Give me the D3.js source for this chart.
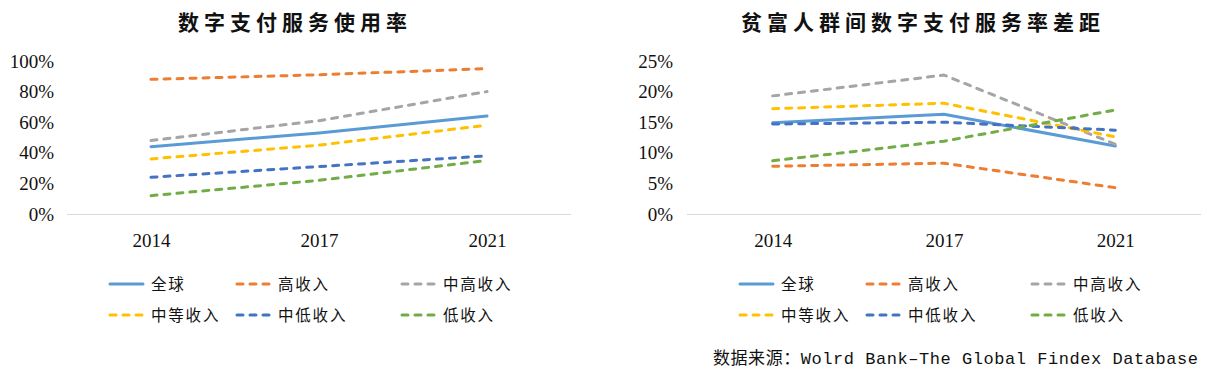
<!DOCTYPE html>
<html>
<head>
<meta charset="utf-8">
<script src="https://cdn.jsdelivr.net/npm/d3@7"></script>
<style>
  body { margin: 0; background: #fff; }
  svg { display: block; }
</style>
</head>
<body>
<svg width="1207" height="377"></svg>
<script>
// data
const years = ['2014', '2017', '2021'];
const seriesNames = ['全球', '高收入', '中高收入', '中等收入', '中低收入', '低收入'];
const seriesColors = ['#5B9BD5', '#ED7D31', '#A5A5A5', '#FFC000', '#4472C4', '#70AD47'];
const seriesDashed = [false, true, true, true, true, true];

// 数字支付服务使用率
const usageRates = [
  [0.44, 0.53, 0.64],
  [0.88, 0.91, 0.95],
  [0.48, 0.61, 0.80],
  [0.36, 0.45, 0.58],
  [0.24, 0.31, 0.38],
  [0.12, 0.22, 0.35]
];
const usageTicks = [0, 0.2, 0.4, 0.6, 0.8, 1.0];

// 贫富人群间数字支付服务率差距
const gapRates = [
  [0.149, 0.163, 0.111],
  [0.078, 0.083, 0.043],
  [0.193, 0.227, 0.114],
  [0.172, 0.181, 0.126],
  [0.147, 0.150, 0.137],
  [0.087, 0.119, 0.170]
];
const gapTicks = [0, 0.05, 0.10, 0.15, 0.20, 0.25];

const svg = d3.select('svg');
const serif = '"Liberation Serif", "Times New Roman", serif';
const cjk = '"Noto Sans CJK SC", sans-serif';

function drawChart(opts) {
  const g = svg.append('g');

  const x = d3.scalePoint().domain(years).range(opts.xRange).padding(0.5);
  const y = d3.scaleLinear().domain([0, opts.yMax]).range([214, 61]);

  // title
  g.append('text')
    .attr('x', opts.titleX)
    .attr('y', 30)
    .attr('text-anchor', 'middle')
    .attr('font-family', cjk)
    .attr('font-weight', 700)
    .attr('font-size', 21)
    .attr('letter-spacing', 5)
    .attr('fill', '#111')
    .text(opts.title);

  // y labels
  const yAxis = g.append('g')
    .attr('transform', `translate(${opts.yLabelX},0)`)
    .call(d3.axisLeft(y).tickValues(opts.ticks).tickSize(0).tickPadding(0).tickFormat(d3.format('.0%')));
  yAxis.select('.domain').remove();
  yAxis.selectAll('text')
    .attr('font-family', serif)
    .attr('font-size', 19)
    .attr('fill', '#111');

  // baseline
  g.append('line')
    .attr('x1', opts.xRange[0]).attr('x2', opts.xRange[1])
    .attr('y1', y(0) + 0.5).attr('y2', y(0) + 0.5)
    .attr('stroke', '#D9D9D9')
    .attr('stroke-width', 1);

  // x labels
  const xAxis = g.append('g')
    .attr('transform', `translate(0,${y(0)})`)
    .call(d3.axisBottom(x).tickSize(0).tickPadding(20));
  xAxis.select('.domain').remove();
  xAxis.selectAll('text')
    .attr('font-family', serif)
    .attr('font-size', 19)
    .attr('fill', '#111');

  // lines
  const line = d3.line()
    .x((d, i) => x(years[i]))
    .y(d => y(d));

  opts.data.forEach((vals, i) => {
    g.append('path')
      .attr('d', line(vals))
      .attr('fill', 'none')
      .attr('stroke', seriesColors[i])
      .attr('stroke-width', 3)
      .attr('stroke-linecap', 'round')
      .attr('stroke-linejoin', 'round')
      .attr('stroke-dasharray', seriesDashed[i] ? '6,7' : null);
  });

  // legend
  const colX = [0, 127, 292];
  const rowY = [284, 315];
  seriesNames.forEach((name, i) => {
    const lx = opts.legendX + colX[i % 3];
    const ly = rowY[Math.floor(i / 3)];
    g.append('line')
      .attr('x1', lx).attr('x2', lx + 33)
      .attr('y1', ly).attr('y2', ly)
      .attr('stroke', seriesColors[i])
      .attr('stroke-width', 3)
      .attr('stroke-linecap', 'round')
      .attr('stroke-dasharray', seriesDashed[i] ? '6,7' : null);
    g.append('text')
      .attr('x', lx + 41)
      .attr('y', ly + 6)
      .attr('font-family', cjk)
      .attr('font-size', 15.5)
      .attr('letter-spacing', 1.8)
      .attr('fill', '#111')
      .text(name);
  });
}

drawChart({
  title: '数字支付服务使用率',
  titleX: 295,
  data: usageRates,
  yMax: 1,
  ticks: usageTicks,
  xRange: [67, 571],
  yLabelX: 54,
  legendX: 110
});

drawChart({
  title: '贫富人群间数字支付服务率差距',
  titleX: 923,
  data: gapRates,
  yMax: 0.25,
  ticks: gapTicks,
  xRange: [687, 1201],
  yLabelX: 673,
  legendX: 740
});

// source note
svg.append('text')
  .attr('x', 713)
  .attr('y', 364)
  .attr('font-family', '"Liberation Mono", "DejaVu Sans Mono", "Noto Sans CJK SC", monospace')
  .attr('font-size', 17)
  .attr('textLength', 485)
  .attr('lengthAdjust', 'spacing')
  .attr('fill', '#111')
  .text('数据来源：Wolrd Bank–The Global Findex Database');
</script>
</body>
</html>
